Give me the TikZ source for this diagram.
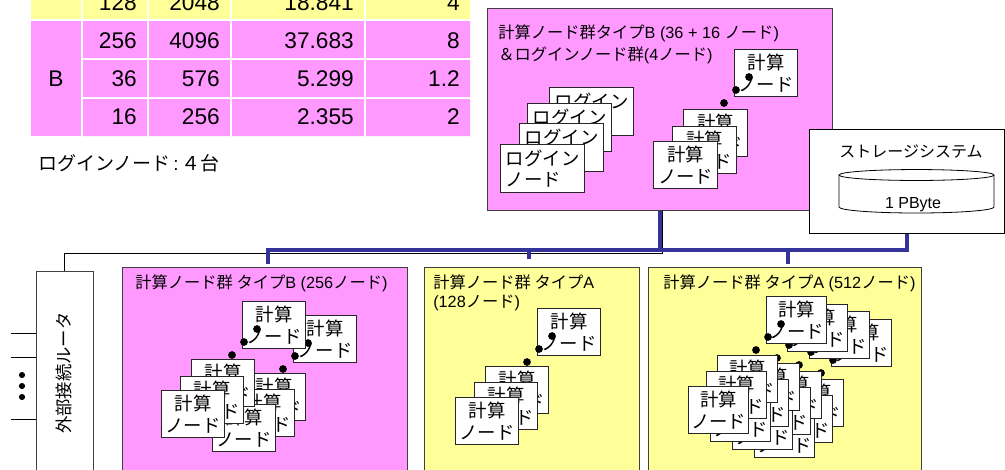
\documentclass[tikz,border=0pt]{standalone}
\usepackage{fontspec}
\setmainfont{Liberation Sans}
\newfontfamily\jp{Noto Sans CJK JP}
\usetikzlibrary{calc}
\definecolor{mag}{HTML}{FF99FF}
\definecolor{yel}{HTML}{FFFF99}
\definecolor{netblue}{HTML}{333399}
\tikzset{
  every node/.style={inner sep=0pt},
  bigbox/.style={draw=black!75, line width=0.8pt, anchor=north west},
  cnode/.style={draw=black!85, fill=white, line width=0.9pt, anchor=north west, align=center,
    font=\jp\fontsize{13.8}{16.5}\selectfont, minimum height=35.25pt},
  lnode/.style={draw=black!85, fill=white, line width=0.9pt, anchor=north west, align=left,
    font=\jp\fontsize{13.8}{15.5}\selectfont, minimum width=63pt, minimum height=36pt},
  ttl/.style={anchor=west, font=\fontsize{12.2}{14}\selectfont},
  tabtxt/.style={anchor=east, font=\fontsize{17}{20}\selectfont},
  bl/.style={draw=netblue, line width=2.6pt, line join=miter},
  eth/.style={draw=black, line width=0.75pt},
}
\newcommand\cn[4]{\node[cnode, minimum width={#4*0.75pt}] (#1) at (#2,#3) {計算\\ノード};}
\newcommand\dts[2]{\fill (#1+15,#2+28) circle[radius=2.9pt] (#1+2,#2+41) circle[radius=2.9pt] (#1-10,#2+54) circle[radius=2.9pt];}
\begin{document}
\begin{tikzpicture}[x=0.75pt,y=-0.75pt]
\useasboundingbox (0,0) rectangle (1005,469);
\clip (0,0) rectangle (1005,469);
% ---------- table ----------
\fill[yel] (31,-20) rectangle (81,19) (83,-20) rectangle (147,19) (149,-20) rectangle (230,19)
  (232,-20) rectangle (364,19) (366,-20) rectangle (470,19);
\fill[mag] (31,21) rectangle (81,136);
\foreach \ya/\yb in {21/58,60/97,99/136}{
  \fill[mag] (83,\ya) rectangle (147,\yb) (149,\ya) rectangle (230,\yb)
    (232,\ya) rectangle (364,\yb) (366,\ya) rectangle (470,\yb);
}
\node[tabtxt] (r0a) at (137,3) {128};
\node[tabtxt] (r0b) at (220,3) {2048};
\node[tabtxt] (r0c) at (354,3) {18.841};
\node[tabtxt] (r0d) at (460,3) {4};
\node[tabtxt] (r1a) at (137,41) {256};
\node[tabtxt] (r1b) at (220,41) {4096};
\node[tabtxt] (r1c) at (354,41) {37.683};
\node[tabtxt] (r1d) at (460,41) {8};
\node[tabtxt] (r2a) at (137,79) {36};
\node[tabtxt] (r2b) at (220,79) {576};
\node[tabtxt] (r2c) at (354,79) {5.299};
\node[tabtxt] (r2d) at (460,79) {1.2};
\node[tabtxt] (r3a) at (137,117) {16};
\node[tabtxt] (r3b) at (220,117) {256};
\node[tabtxt] (r3c) at (354,117) {2.355};
\node[tabtxt] (r3d) at (460,117) {2};
\node[font=\fontsize{17}{20}\selectfont] (typB) at (56,79) {B};
\node[anchor=west, font=\fontsize{14.25}{16}\selectfont] (cap) at (38,163) {{\jp ログインノード}\,:\,{\jp ４台}};
% ---------- big boxes ----------
\node[bigbox, fill=mag, minimum width={345*0.75pt}, minimum height={202*0.75pt}] (magB) at (487,8) {};
\node[bigbox, fill=white, draw=black, minimum width={195*0.75pt}, minimum height={104*0.75pt}] (stor) at (809,129) {};
\node[bigbox, fill=white, minimum width={57*0.75pt}, minimum height={209*0.75pt}] (rtr) at (36,271) {};
\node[bigbox, fill=mag, minimum width={285*0.75pt}, minimum height={213*0.75pt}] (bB) at (122,267) {};
\node[bigbox, fill=yel, minimum width={215*0.75pt}, minimum height={213*0.75pt}] (bA1) at (424,267) {};
\node[bigbox, fill=yel, minimum width={273*0.75pt}, minimum height={213*0.75pt}] (bA2) at (648,267) {};
% ---------- connectors ----------
\coordinate (e1) at (64,253);
\coordinate (e2) at (662,253);
\draw[eth] (rtr.north -| e1) -- (e1) -- (e2) -- (magB.south -| e2);
\coordinate (h1) at (268,250);
\coordinate (h2) at (529,250);
\coordinate (h3) at (660,250);
\coordinate (h4) at (788,250);
\coordinate (h5) at (907,250);
\draw[bl] ($(bB.north -| h1)+(0,-3)$) -- (h1) -- (h5) -- (stor.south -| h5);
\draw[bl] (magB.south -| h3) -- (h3);
\draw[bl] (h2) -- ($(bA1.north -| h2)+(0,-8)$);
\draw[bl] (h4) -- ($(bA2.north -| h4)+(0,-3)$);
% left side lines of router
\coordinate (l1) at (11,333);
\coordinate (l2) at (11,357);
\coordinate (l3) at (11,419);
\draw[eth] (l1) -- (l1 -| rtr.west) (l2) -- (l2 -| rtr.west) (l3) -- (l3 -| rtr.west);
\fill (22,375) circle[radius=2.3pt] (22,386) circle[radius=2.3pt] (22,397) circle[radius=2.3pt];
\node[font=\jp\fontsize{13}{15}\selectfont, rotate=90] (rtt) at (64,373) {外部接続ルータ};
% ---------- storage ----------
\node[font=\jp\fontsize{12}{14}\selectfont] (stt) at (911,152) {ストレージシステム};
\draw[fill=white, line width=0.6pt] (839,175) -- (839,207) arc[start angle=180, end angle=360, x radius=58.125pt, y radius=4.5pt] -- (994,175);
\draw[fill=white, line width=0.6pt] (916.5,175) ellipse[x radius=58.125pt, y radius=4.1pt];
\node[font=\fontsize{12}{14}\selectfont] (pby) at (913,205) {1 PByte};
% ---------- top-right group ----------
\node[ttl] (tB1) at (498,33) {{\jp 計算ノード群タイプ}B (36 + 16 {\jp ノード})};
\node[ttl] (tB2) at (498,55) {{\jp ＆ログインノード群}(4{\jp ノード})};
\node[lnode] (lg4) at (549,87) {ログイン\\ノード};
\node[lnode] (lg3) at (527,103) {ログイン\\ノード};
\node[lnode] (lg2) at (519,123) {ログイン\\ノード};
\node[lnode] (lg1) at (500,144) {ログイン\\ノード};
\cn{m3}{683}{109}{64}
\cn{m2}{672}{126}{64}
\cn{m1}{653}{141}{64}
\cn{mt}{734}{49}{63}
\dts{734}{49}
% ---------- type B 256 ----------
\node[ttl] (tB256) at (135,283) {{\jp 計算ノード群 タイプ}B (256{\jp ノード})};
\cn{bt2}{293}{315}{63}
\dts{293}{315}
\cn{bt1}{242}{301}{63}
\dts{242}{301}
\cn{br3}{242}{373}{63}
\cn{br2}{231}{389}{63}
\cn{br1}{212}{404}{63}
\cn{bl3}{191}{359}{63}
\cn{bl2}{180}{376}{63}
\cn{bl1}{161}{390}{63}
% ---------- type A 128 ----------
\node[ttl] (tA1a) at (433,282) {{\jp 計算ノード群 タイプ}A};
\node[ttl] (tA1b) at (433,303) {(128{\jp ノード})};
\cn{at}{537}{308}{63}
\dts{537}{308}
\cn{as3}{485}{366}{63}
\cn{as2}{474}{382}{63}
\cn{as1}{455}{397}{63}
% ---------- type A 512 ----------
\node[ttl] (tA2) at (663,283) {{\jp 計算ノード群 タイプ}A (512{\jp ノード})};
\cn{pt4}{831}{319}{60}
\dts{831}{319}
\cn{pt3}{809}{311}{60}
\dts{809}{311}
\cn{pt2}{787}{304}{60}
\dts{787}{304}
\cn{pt1}{766}{296}{60}
\dts{766}{296}
\foreach \i in {3,2,1,0}{
  \cn{pb\i}{717+22*\i}{355+8*\i}{60}
  \cn{pm\i}{706+22*\i}{371+8*\i}{60}
  \cn{pf\i}{688+22*\i}{386+8*\i}{60}
}
\end{tikzpicture}
\end{document}
